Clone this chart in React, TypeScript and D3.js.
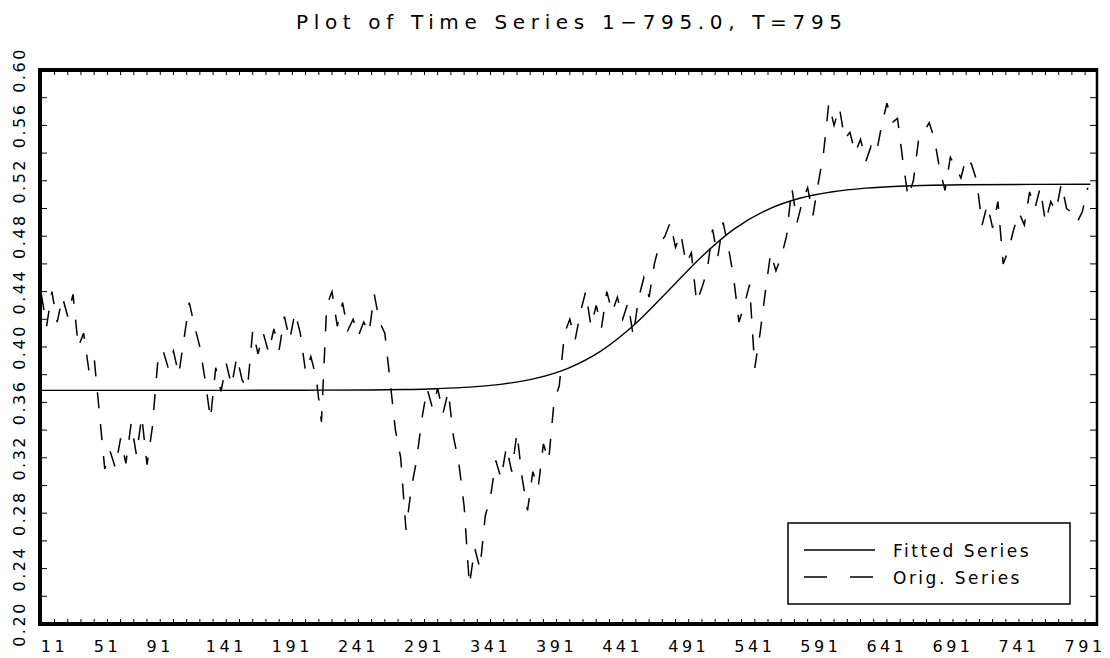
import React from "react";
import * as d3 from "d3";

const W = 1110;
const H = 658;

const titleText = "Plot of Time Series 1\u2212795.0, T=795";
const xTickLabels = [11, 51, 91, 141, 191, 241, 291, 341, 391, 441, 491, 541, 591, 641, 691, 741, 791];
const yTickLabels = [0.2, 0.24, 0.28, 0.32, 0.36, 0.4, 0.44, 0.48, 0.52, 0.56, 0.6];
const legendLabels = ["Fitted Series", "Orig. Series"];

// Fitted (smooth) series, read at intervals
const fittedTimes = [1, 50, 100, 150, 200, 250, 275, 300, 325, 350, 375, 400, 425, 450, 475, 500, 525, 550, 575, 600, 625, 650, 675, 700, 750, 795];
const fittedValues = [0.3687, 0.3687, 0.3687, 0.3687, 0.3688, 0.369, 0.3693, 0.3699, 0.371, 0.3732, 0.3773, 0.3848, 0.3974, 0.4162, 0.4401, 0.4645, 0.4849, 0.4989, 0.5074, 0.5121, 0.5147, 0.5161, 0.5168, 0.5171, 0.5174, 0.5175];

// Original series, read every 4th observation starting at t = 1
const origStart = 1;
const origStep = 4;
const origValues = [
  0.438, 0.415, 0.44, 0.418, 0.436, 0.422, 0.438, 0.4, 0.41, 0.383,
  0.392, 0.352, 0.312, 0.325, 0.313, 0.334, 0.316, 0.345, 0.322, 0.35,
  0.315, 0.342, 0.388, 0.398, 0.385, 0.397, 0.38, 0.406, 0.432, 0.415,
  0.4, 0.376, 0.348, 0.385, 0.368, 0.388, 0.372, 0.393, 0.376, 0.37,
  0.412, 0.395, 0.41, 0.396, 0.413, 0.398, 0.422, 0.405, 0.425, 0.41,
  0.382, 0.393, 0.378, 0.346, 0.43, 0.44, 0.415, 0.432, 0.412, 0.42,
  0.408, 0.418, 0.41, 0.438, 0.418, 0.41, 0.375, 0.34, 0.32, 0.268,
  0.298, 0.318, 0.348, 0.37, 0.356, 0.37, 0.352, 0.368, 0.335, 0.316,
  0.285, 0.228, 0.255, 0.24, 0.278, 0.292, 0.318, 0.305, 0.328, 0.31,
  0.338, 0.305, 0.282, 0.31, 0.298, 0.33, 0.318, 0.36, 0.372, 0.41,
  0.42, 0.405, 0.425, 0.44, 0.415, 0.43, 0.414, 0.44, 0.425, 0.436,
  0.42, 0.432, 0.408, 0.435, 0.45, 0.436, 0.46, 0.475, 0.48, 0.49,
  0.472, 0.482, 0.46, 0.468, 0.432, 0.443, 0.455, 0.485, 0.465, 0.49,
  0.472, 0.45, 0.418, 0.43, 0.445, 0.385, 0.41, 0.44, 0.468, 0.455,
  0.465, 0.48, 0.515, 0.49, 0.505, 0.515, 0.495, 0.518, 0.54, 0.576,
  0.56, 0.573, 0.55, 0.555, 0.54, 0.55, 0.534, 0.545, 0.54, 0.56,
  0.576, 0.562, 0.565, 0.535, 0.508, 0.52, 0.55, 0.555, 0.562, 0.55,
  0.528, 0.513, 0.537, 0.53, 0.522, 0.537, 0.532, 0.52, 0.488, 0.503,
  0.486, 0.505, 0.46, 0.47, 0.485, 0.497, 0.488, 0.512, 0.5, 0.515,
  0.49, 0.505, 0.498, 0.518, 0.5, 0.497, 0.49, 0.498, 0.515,
];

const FONT = "'DejaVu Sans', sans-serif";

export default function App() {
  const left = 40, right = 1097, top = 70, bottom = 624;
  const x = d3.scaleLinear().domain([0, 800]).range([left, right]);
  const y = d3.scaleLinear().domain([0.2, 0.6]).range([bottom, top]);

  const orig = origValues.map((v, i) => [origStart + i * origStep, v] as [number, number]);
  const fitted = fittedTimes.map((t, i) => [t, fittedValues[i]] as [number, number]);

  const lineGen = d3.line<[number, number]>().x((d) => x(d[0])).y((d) => y(d[1]));
  const smoothGen = d3
    .line<[number, number]>()
    .x((d) => x(d[0]))
    .y((d) => y(d[1]))
    .curve(d3.curveMonotoneX);

  const xMinor = d3.range(1, 800, 10);
  const yMinor = d3.range(0, 21).map((k) => 0.2 + k * 0.02);

  const tickLen = 5;

  return (
    <svg width={W} height={H} style={{ display: "block", position: "absolute", left: 0, top: 0, background: "#fff" }}>
      <rect x={0} y={0} width={W} height={H} fill="#fff" />
      <text x={569} y={29} textAnchor="middle" fontFamily={FONT} fontSize={20} textLength={546} lengthAdjust="spacing" fill="#000">
        {titleText}
      </text>

      <defs>
        <clipPath id="plotclip">
          <rect x={left} y={top} width={right - left} height={bottom - top} />
        </clipPath>
      </defs>

      {xMinor.map((t) => (
        <g key={"xt" + t}>
          <line x1={x(t)} x2={x(t)} y1={bottom} y2={bottom - tickLen} stroke="#000" strokeWidth={1} />
          <line x1={x(t)} x2={x(t)} y1={top} y2={top + tickLen} stroke="#000" strokeWidth={1} />
        </g>
      ))}
      {yMinor.map((v, k) => (
        <g key={"yt" + k}>
          <line x1={left} x2={left + 7} y1={y(v)} y2={y(v)} stroke="#000" strokeWidth={1} />
          <line x1={right} x2={right - 7} y1={y(v)} y2={y(v)} stroke="#000" strokeWidth={1} />
        </g>
      ))}

      <g clipPath="url(#plotclip)">
        <path d={smoothGen(fitted) || ""} fill="none" stroke="#000" strokeWidth={1.4} />
        <path d={lineGen(orig) || ""} fill="none" stroke="#000" strokeWidth={1.5} strokeDasharray="16,16" />
      </g>

      <line x1={left - 2} x2={right + 1} y1={top} y2={top} stroke="#000" strokeWidth={4} />
      <line x1={left - 2} x2={right + 1} y1={bottom} y2={bottom} stroke="#000" strokeWidth={4} />
      <line x1={left} x2={left} y1={top - 2} y2={bottom + 2} stroke="#000" strokeWidth={4} />
      <line x1={right} x2={right} y1={top - 2} y2={bottom + 2} stroke="#000" strokeWidth={2.5} />

      {xTickLabels.map((t) => (
        <text key={"xl" + t} x={x(t)} y={652} textAnchor="middle" fontFamily={FONT} fontSize={16} letterSpacing={3.5} fill="#000">
          {t}
        </text>
      ))}
      {yTickLabels.map((v) => (
        <text
          key={"yl" + v}
          transform={`translate(25,${y(v)}) rotate(-90)`}
          textAnchor="middle"
          fontFamily={FONT}
          fontSize={16}
          letterSpacing={2.5}
          fill="#000"
        >
          {v.toFixed(2)}
        </text>
      ))}

      <rect x={788} y={523} width={282} height={81} fill="#fff" stroke="#000" strokeWidth={1.5} />
      <line x1={804} x2={875} y1={550} y2={550} stroke="#000" strokeWidth={1.4} />
      <line x1={804} x2={875} y1={577} y2={577} stroke="#000" strokeWidth={1.4} strokeDasharray="23,23" />
      <text x={893} y={557} fontFamily={FONT} fontSize={17} letterSpacing={2.5} fill="#000">
        {legendLabels[0]}
      </text>
      <text x={893} y={584} fontFamily={FONT} fontSize={17} letterSpacing={2.5} fill="#000">
        {legendLabels[1]}
      </text>
    </svg>
  );
}
